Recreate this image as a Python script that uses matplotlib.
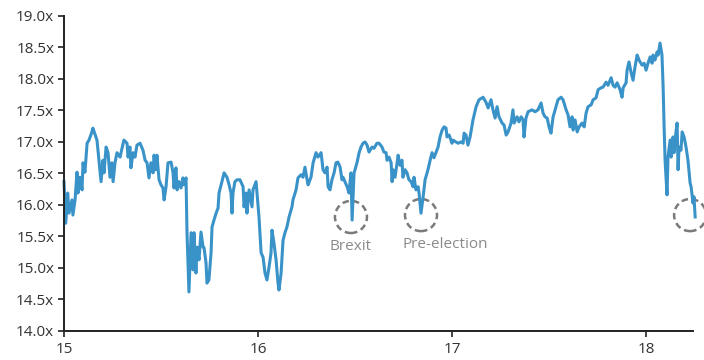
import matplotlib.pyplot as plt
from matplotlib.patches import Ellipse
from matplotlib.ticker import FuncFormatter

# Forward P/E multiple, decimal year (15 = 2015)
years = [
    15.000, 15.009, 15.019, 15.026, 15.041, 15.046, 15.057, 15.067, 15.072, 15.082,
    15.093, 15.098, 15.108, 15.119, 15.129, 15.144, 15.149, 15.170, 15.180, 15.191,
    15.201, 15.206, 15.217, 15.227, 15.237, 15.247, 15.253, 15.263, 15.273, 15.289,
    15.299, 15.309, 15.325, 15.330, 15.340, 15.345, 15.356, 15.366, 15.376, 15.392,
    15.407, 15.418, 15.428, 15.438, 15.448, 15.459, 15.464, 15.474, 15.479, 15.490,
    15.500, 15.510, 15.516, 15.526, 15.536, 15.552, 15.562, 15.567, 15.577, 15.583,
    15.593, 15.603, 15.613, 15.619, 15.629, 15.634, 15.644, 15.655, 15.665, 15.670,
    15.680, 15.686, 15.696, 15.706, 15.717, 15.722, 15.732, 15.737, 15.747, 15.758,
    15.763, 15.773, 15.784, 15.794, 15.799, 15.814, 15.825, 15.840, 15.851, 15.861,
    15.866, 15.871, 15.881, 15.892, 15.907, 15.923, 15.928, 15.938, 15.943, 15.954,
    15.969, 15.974, 15.990, 15.995, 16.005, 16.016, 16.026, 16.036, 16.046, 16.057,
    16.067, 16.072, 16.082, 16.093, 16.103, 16.108, 16.119, 16.129, 16.139, 16.149,
    16.160, 16.175, 16.180, 16.196, 16.206, 16.222, 16.232, 16.242, 16.253, 16.258,
    16.273, 16.284, 16.299, 16.309, 16.325, 16.335, 16.345, 16.356, 16.361, 16.371,
    16.381, 16.392, 16.402, 16.412, 16.423, 16.433, 16.438, 16.448, 16.459, 16.469,
    16.479, 16.485, 16.495, 16.500, 16.510, 16.521, 16.531, 16.541, 16.552, 16.562,
    16.572, 16.588, 16.598, 16.613, 16.624, 16.639, 16.649, 16.660, 16.665, 16.675,
    16.686, 16.691, 16.696, 16.706, 16.717, 16.722, 16.732, 16.742, 16.747, 16.758,
    16.768, 16.778, 16.789, 16.799, 16.804, 16.814, 16.825, 16.830, 16.840, 16.851,
    16.861, 16.871, 16.876, 16.887, 16.897, 16.907, 16.918, 16.928, 16.938, 16.949,
    16.959, 16.969, 16.974, 16.985, 17.000, 17.005, 17.021, 17.031, 17.046, 17.057,
    17.062, 17.072, 17.082, 17.093, 17.108, 17.124, 17.139, 17.160, 17.175, 17.186,
    17.201, 17.211, 17.222, 17.232, 17.242, 17.258, 17.268, 17.279, 17.289, 17.304,
    17.314, 17.320, 17.335, 17.345, 17.356, 17.366, 17.371, 17.381, 17.392, 17.412,
    17.428, 17.443, 17.459, 17.469, 17.479, 17.490, 17.500, 17.510, 17.521, 17.536,
    17.546, 17.562, 17.572, 17.588, 17.598, 17.608, 17.619, 17.624, 17.634, 17.645,
    17.655, 17.670, 17.681, 17.691, 17.701, 17.717, 17.727, 17.742, 17.753, 17.768,
    17.778, 17.794, 17.804, 17.820, 17.830, 17.840, 17.851, 17.866, 17.876, 17.882,
    17.897, 17.902, 17.912, 17.923, 17.933, 17.943, 17.954, 17.964, 17.979, 17.990,
    18.000, 18.010, 18.021, 18.031, 18.036, 18.046, 18.057, 18.062, 18.072, 18.082,
    18.088, 18.093, 18.098, 18.108, 18.113, 18.124, 18.129, 18.139, 18.144, 18.149,
    18.160, 18.165, 18.170, 18.180, 18.186, 18.196, 18.206, 18.216, 18.227, 18.232,
    18.242, 18.247, 18.253,
]
multiples = [
    16.37, 15.71, 16.19, 15.87, 16.08, 15.84, 16.08, 16.52, 16.19, 16.44,
    16.24, 16.67, 16.52, 16.98, 17.03, 17.16, 17.22, 17.03, 16.71, 16.37,
    16.71, 16.51, 16.92, 16.83, 16.44, 16.67, 16.37, 16.67, 16.83, 16.76,
    16.90, 17.03, 16.98, 16.76, 16.92, 16.59, 16.83, 16.76, 16.95, 16.98,
    16.87, 16.71, 16.67, 16.43, 16.67, 16.51, 16.79, 16.56, 16.79, 16.40,
    16.32, 16.27, 16.08, 16.29, 16.67, 16.68, 16.51, 16.27, 16.59, 16.24,
    16.37, 16.27, 16.43, 16.32, 16.43, 15.56, 14.62, 15.56, 14.97, 15.56,
    14.92, 15.33, 15.13, 15.57, 15.33, 15.32, 15.08, 14.76, 14.81, 15.24,
    15.65, 15.76, 15.87, 15.95, 16.19, 16.37, 16.51, 16.44, 16.32, 16.19,
    15.87, 16.19, 16.37, 16.40, 16.40, 16.29, 15.97, 16.19, 15.87, 16.24,
    15.97, 16.24, 16.37, 16.19, 15.81, 15.24, 15.17, 14.92, 14.81, 15.02,
    15.24, 15.60, 15.40, 15.13, 14.76, 14.65, 14.92, 15.44, 15.56, 15.65,
    15.81, 15.97, 16.08, 16.24, 16.43, 16.48, 16.44, 16.60, 16.40, 16.32,
    16.44, 16.67, 16.83, 16.76, 16.83, 16.56, 16.51, 16.60, 16.29, 16.24,
    16.40, 16.51, 16.67, 16.68, 16.60, 16.40, 16.44, 16.37, 16.29, 16.19,
    16.51, 15.76, 16.51, 16.56, 16.67, 16.83, 16.92, 16.98, 17.00, 16.95,
    16.84, 16.92, 16.90, 16.98, 16.98, 16.92, 16.84, 16.83, 16.71, 16.76,
    16.67, 16.37, 16.56, 16.44, 16.67, 16.79, 16.63, 16.71, 16.44, 16.56,
    16.51, 16.40, 16.37, 16.29, 16.44, 16.24, 16.29, 16.19, 15.87, 16.13,
    16.40, 16.51, 16.56, 16.71, 16.83, 16.75, 16.84, 16.92, 17.08, 17.19,
    17.24, 17.22, 17.08, 17.11, 16.98, 17.03, 17.00, 16.98, 17.00, 16.98,
    17.14, 17.11, 16.95, 17.08, 17.35, 17.56, 17.67, 17.71, 17.63, 17.54,
    17.67, 17.51, 17.38, 17.56, 17.40, 17.30, 17.27, 17.11, 17.16, 17.30,
    17.51, 17.30, 17.40, 17.32, 17.40, 17.35, 17.08, 17.38, 17.48, 17.51,
    17.48, 17.51, 17.62, 17.46, 17.40, 17.38, 17.24, 17.14, 17.40, 17.56,
    17.67, 17.71, 17.67, 17.51, 17.43, 17.24, 17.40, 17.19, 17.35, 17.16,
    17.24, 17.30, 17.24, 17.46, 17.56, 17.59, 17.67, 17.70, 17.83, 17.86,
    17.87, 17.95, 17.90, 18.02, 17.90, 17.87, 17.94, 17.83, 17.71, 17.86,
    17.94, 18.14, 18.27, 18.10, 17.98, 18.19, 18.38, 18.30, 18.22, 18.25,
    18.14, 18.25, 18.35, 18.25, 18.38, 18.30, 18.43, 18.38, 18.57, 18.38,
    17.87, 17.24, 16.71, 16.16, 16.76, 17.03, 16.76, 17.08, 16.83, 17.03,
    17.30, 16.56, 16.92, 16.87, 17.16, 17.08, 16.92, 16.71, 16.35, 16.29,
    16.03, 16.13, 15.81,
]

# Highlighted dips
event_labels = ['Brexit', 'Pre-election', '']
event_years = [16.479, 16.840, 18.227]
event_values = [15.81, 15.84, 15.84]

plt.rcParams['font.family'] = ['Open Sans', 'DejaVu Sans']

fig = plt.figure(figsize=(7.04, 3.6), dpi=100)
ax = fig.add_axes([0.0909, 0.0806, 0.8935, 0.875])

ax.plot(years, multiples, color='#3a93c8', linewidth=2.2, clip_on=False,
        solid_joinstyle='round')

for label, x, y in zip(event_labels, event_years, event_values):
    ax.add_patch(Ellipse((x, y), 0.165, 0.51, fill=False, edgecolor='#7a7a7a',
                         linewidth=1.8, linestyle=(0, (2.6, 1.6)), clip_on=False))
    if label:
        # Pre-election label starts just left of its circle
        if label == 'Pre-election':
            ax.annotate(label, (x, y), xytext=(-13, -21), textcoords='offset points',
                        ha='left', va='center', fontsize=11, color='#8a8a8a')
        else:
            ax.annotate(label, (x, y), xytext=(0, -21), textcoords='offset points',
                        ha='center', va='center', fontsize=11, color='#8a8a8a')

ax.set_xlim(15, 18.242)
ax.set_ylim(14, 19)
ax.set_xticks([15, 16, 17, 18])
ax.set_yticks([14 + 0.5 * i for i in range(11)])
ax.yaxis.set_major_formatter(FuncFormatter(lambda v, p: f'{v:.1f}x'))
ax.xaxis.set_major_formatter(FuncFormatter(lambda v, p: f'{v:.0f}'))

for side in ['top', 'right']:
    ax.spines[side].set_visible(False)
for side in ['left', 'bottom']:
    ax.spines[side].set_linewidth(1.4)
    ax.spines[side].set_color('#222222')

ax.tick_params(direction='out', length=4, width=1.2, color='#222222',
               labelsize=11, labelcolor='#333333')
ax.tick_params(axis='y', pad=3)
ax.tick_params(axis='x', pad=4)

fig.savefig('out.png', dpi=100)
